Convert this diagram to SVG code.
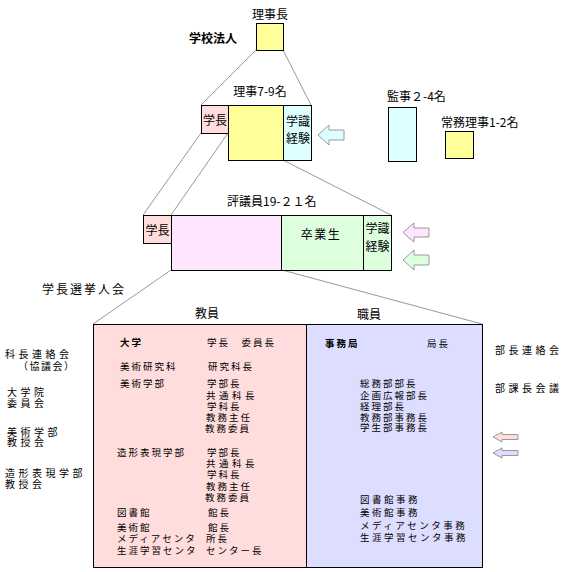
<svg xmlns="http://www.w3.org/2000/svg" width="582" height="572" viewBox="0 0 582 572">
<style>
text{font-family:"Noto Sans CJK JP","Noto Sans",sans-serif;fill:#000;dominant-baseline:central}
.t12{font-size:12px}
.b{font-weight:bold}
.s{font-size:9.5px;letter-spacing:2px}
.lab{font-size:10px;letter-spacing:3.5px}
.mid{text-anchor:middle}
.box{stroke:#000;stroke-width:1}
.ln{stroke:#999;stroke-width:1;fill:none}
.arr{stroke:#999;stroke-width:1}
.yel{fill:#ffff99}
.cy{fill:#ddffff}
.pk{fill:#ffdddd}
.mg{fill:#ffe6ff}
.gr{fill:#ddffdd}
.bl{fill:#ddddff}
</style>
<rect width="582" height="572" fill="#fff"/>
<g id="connectors">
<line class="ln" x1="256" y1="50" x2="201" y2="105"/>
<line class="ln" x1="283" y1="50" x2="311" y2="105"/>
<line class="ln" x1="201" y1="133" x2="143" y2="215"/>
<line class="ln" x1="228" y1="133" x2="171" y2="215"/>
<line class="ln" x1="283" y1="160" x2="391" y2="215"/>
<line class="ln" x1="171" y1="270" x2="93" y2="324"/>
<line class="ln" x1="282" y1="270" x2="482" y2="324"/>
</g>
<g id="houjin">
<text class="t12 b mid" x="213" y="37">学校法人</text>
</g>
<g id="rijicho">
<text class="t12 mid" x="270" y="13">理事長</text>
<rect class="box yel" x="256.5" y="23.5" width="27" height="27"/>
</g>
<g id="riji">
<text class="t12 mid" x="260" y="90">理事7-9名</text>
<rect class="box pk" x="201.5" y="105.5" width="27" height="28"/>
<text class="t12 mid" x="215" y="119">学長</text>
<rect class="box yel" x="228.5" y="105.5" width="55" height="55"/>
<rect class="box cy" x="283.5" y="105.5" width="28" height="55"/>
<text class="t12" x="286" y="120">学識</text>
<text class="t12 mid" x="298" y="137">経験</text>
<polygon class="arr cy" points="318,135 329,125 329,130 344,130 344,140 329,140 329,145"/>
</g>
<g id="kanji">
<text class="t12" x="387" y="95">監事２-4名</text>
<rect class="box cy" x="388.5" y="107.5" width="28" height="54"/>
</g>
<g id="jomu">
<text class="t12" x="441" y="121">常務理事1-2名</text>
<rect class="box yel" x="445.5" y="131.5" width="28" height="27"/>
</g>
<g id="hyogiin">
<text class="t12" x="227" y="200">評議員19-２１名</text>
<rect class="box pk" x="143.5" y="215.5" width="28" height="28"/>
<text class="t12 mid" x="157.5" y="229">学長</text>
<rect class="box mg" x="171.5" y="215.5" width="110" height="55"/>
<rect class="box gr" x="281.5" y="215.5" width="82" height="55"/>
<text class="t12 mid" x="321" y="233" style="letter-spacing:1.5px">卒業生</text>
<rect class="box gr" x="363.5" y="215.5" width="28" height="55"/>
<text class="t12 mid" x="377.5" y="227">学識</text>
<text class="t12 mid" x="377.5" y="245">経験</text>
<polygon class="arr mg" points="403,232.5 414,223 414,228 429,228 429,237 414,237 414,242"/>
<polygon class="arr gr" points="403,260 414,250 414,255 429,255 429,265 414,265 414,270"/>
</g>
<g id="senkyo">
<text class="t12" x="42" y="288" style="letter-spacing:2px">学長選挙人会</text>
<text class="t12 mid" x="207" y="312">教員</text>
<text class="t12 mid" x="369" y="313">職員</text>
</g>
<g id="daigaku">
<rect class="box pk" x="93.5" y="324.5" width="213" height="243"/>
<text class="s b" x="120" y="342">大学</text>
<text class="s" x="207" y="342">学長　委員長</text>
<text class="s" x="120" y="366">美術研究科</text>
<text class="s" x="208" y="366">研究科長</text>
<text class="s" x="120" y="383">美術学部</text>
<text class="s" x="207" y="383">学部長</text>
<text class="s" x="206" y="395" style="letter-spacing:3.5px">共通科長</text>
<text class="s" x="207" y="406">学科長</text>
<text class="s" x="206" y="417">教務主任</text>
<text class="s" x="205" y="428">教務委員</text>
<text class="s" x="117" y="452">造形表現学部</text>
<text class="s" x="207" y="452">学部長</text>
<text class="s" x="206" y="463" style="letter-spacing:3.5px">共通科長</text>
<text class="s" x="207" y="474">学科長</text>
<text class="s" x="206" y="486">教務主任</text>
<text class="s" x="205" y="497">教務委員</text>
<text class="s" x="117" y="512">図書館</text>
<text class="s" x="208" y="512">館長</text>
<text class="s" x="117" y="527">美術館</text>
<text class="s" x="208" y="527">館長</text>
<text class="s" x="117" y="538">メディアセンタ</text>
<text class="s" x="206" y="538">所長</text>
<text class="s" x="117" y="550">生涯学習センタ</text>
<text class="s" x="206" y="550">センター長</text>
</g>
<g id="jimukyoku">
<rect class="box bl" x="306.5" y="324.5" width="176" height="243"/>
<text class="s b" x="325" y="343">事務局</text>
<text class="s" x="427" y="343">局長</text>
<text class="s" x="360" y="383">総務部部長</text>
<text class="s" x="360" y="395">企画広報部長</text>
<text class="s" x="360" y="406">経理部長</text>
<text class="s" x="360" y="417">教務部事務長</text>
<text class="s" x="360" y="427">学生部事務長</text>
<text class="s" x="360" y="499" style="letter-spacing:2.5px">図書館事務</text>
<text class="s" x="360" y="512" style="letter-spacing:2.5px">美術館事務</text>
<text class="s" x="360" y="525" style="letter-spacing:2.5px">メディアセンタ事務</text>
<text class="s" x="360" y="537" style="letter-spacing:2.5px">生涯学習センタ事務</text>
</g>
<g id="left-labels">
<text class="lab" x="5" y="353">科長連絡会</text>
<text class="lab" x="18" y="365" style="letter-spacing:1.5px">（協議会）</text>
<text class="lab" x="7" y="391">大学院</text>
<text class="lab" x="7" y="402">委員会</text>
<text class="lab" x="7" y="431">美術学部</text>
<text class="lab" x="7" y="441">教授会</text>
<text class="lab" x="5" y="472">造形表現学部</text>
<text class="lab" x="5" y="483">教授会</text>
</g>
<g id="right-labels">
<text class="lab" x="495" y="349">部長連絡会</text>
<text class="lab" x="495" y="387">部課長会議</text>
<polygon class="arr pk" points="493,437 502,432 502,434.5 518,434.5 518,439.5 502,439.5 502,442"/>
<polygon class="arr bl" points="493,453 502,448 502,450.5 518,450.5 518,455.5 502,455.5 502,458"/>
</g>
</svg>
